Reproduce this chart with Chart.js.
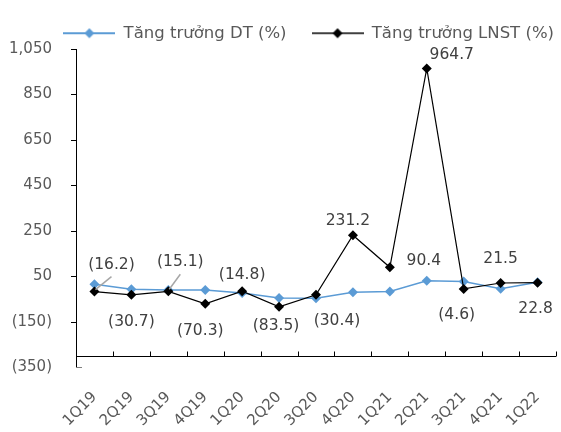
<!DOCTYPE html>
<html>
<head>
<meta charset="utf-8">
<script src="https://cdn.jsdelivr.net/npm/chart.js@4/dist/chart.umd.min.js"></script>
<style>
  html, body { margin: 0; padding: 0; background: #fff; }
  #wrap { width: 561px; height: 432px; }
</style>
</head>
<body>
<div id="wrap"><canvas id="chart"></canvas></div>
<script>
const quarters = ['1Q19','2Q19','3Q19','4Q19','1Q20','2Q20','3Q20','4Q20','1Q21','2Q21','3Q21','4Q21','1Q22'];
const revenueGrowth = [16, -6, -9, -9, -23, -45, -46, -19, -16, 31, 28, -4, 25];
const profitGrowth = [-16.2, -30.7, -15.1, -70.3, -14.8, -83.5, -30.4, 231.2, 90.4, 964.7, -4.6, 21.5, 22.8];
const yTicks = [-350, -150, 50, 250, 450, 650, 850, 1050];
const axisCross = -300;

// label placement (px from the point), leader lines for the crowded ones
const labelShift = [[17,-27],[0,27],[12,-29],[-5,27],[0,-16],[-3,19],[21,26],[-5,-14],[34,-6],[25,-13],[-7,26],[0,-24],[-2,26]];
const withLeader = [0, 2];

const BLUE = '#5B9BD5', BLACK = '#000000', GREY = '#595959';
Chart.defaults.font.family = "'DejaVu Sans', Verdana, sans-serif";

function fmt(v) {
  const s = Math.abs(v).toLocaleString('en-US', { maximumFractionDigits: 1 });
  return v < 0 ? '(' + s + ')' : s;
}

function legendIcon(color, lw) {
  const c = document.createElement('canvas');
  c.width = 52; c.height = 12;
  const g = c.getContext('2d');
  g.strokeStyle = color; g.lineWidth = lw;
  g.beginPath(); g.moveTo(0, 6); g.lineTo(52, 6); g.stroke();
  g.fillStyle = color;
  g.beginPath(); g.moveTo(26, 1); g.lineTo(31, 6); g.lineTo(26, 11); g.lineTo(21, 6); g.closePath(); g.fill();
  return c;
}

const extras = {
  id: 'extras',
  beforeInit(chart) {
    const fit = chart.legend.fit;
    chart.legend.fit = function () { fit.call(this); this.height = 49; };
  },
  afterLayout(chart) {
    chart.legend.left += 22;
    chart.legend.right += 22;
  },
  afterDatasetsDraw(chart) {
    const ctx = chart.ctx, xs = chart.scales.x, ys = chart.scales.y, area = chart.chartArea;
    const yc = Math.round(ys.getPixelForValue(axisCross)) + 0.5;
    ctx.save();
    // horizontal axis crossing at -300, ticks pointing up
    ctx.strokeStyle = BLACK; ctx.lineWidth = 1;
    ctx.beginPath(); ctx.moveTo(area.left, yc); ctx.lineTo(area.right, yc); ctx.stroke();
    for (let i = 0; i <= quarters.length; i++) {
      const x = Math.round(xs.getPixelForValue(i - 0.5)) + 0.5;
      ctx.beginPath(); ctx.moveTo(x, yc); ctx.lineTo(x, yc - 5); ctx.stroke();
    }
    const yb = Math.round(ys.getPixelForValue(yTicks[0])) - 0.5;
    ctx.strokeStyle = '#7F7F7F';
    ctx.beginPath(); ctx.moveTo(area.left, yb); ctx.lineTo(area.left + 6, yb); ctx.stroke();
    // data labels for profit growth
    const meta = chart.getDatasetMeta(1);
    ctx.font = "15.5px 'DejaVu Sans'";
    ctx.fillStyle = '#404040';
    ctx.textAlign = 'center'; ctx.textBaseline = 'middle';
    meta.data.forEach((pt, i) => {
      const lx = pt.x + labelShift[i][0], ly = pt.y + labelShift[i][1];
      if (withLeader.includes(i)) {
        ctx.strokeStyle = '#A6A6A6'; ctx.lineWidth = 1.5;
        ctx.beginPath(); ctx.moveTo(lx, ly + 12); ctx.lineTo(pt.x + 1, pt.y - 2); ctx.stroke();
      }
      ctx.fillText(fmt(profitGrowth[i]), lx, ly);
    });
    ctx.restore();
  }
};

new Chart(document.getElementById('chart'), {
  type: 'line',
  data: {
    labels: quarters,
    datasets: [
      { label: 'Tăng trưởng DT (%)', data: revenueGrowth, borderColor: BLUE, backgroundColor: BLUE,
        borderWidth: 1.5, pointStyle: 'rectRot', pointRadius: 5, pointBorderWidth: 0, order: 2 },
      { label: 'Tăng trưởng LNST (%)', data: profitGrowth, borderColor: BLACK, backgroundColor: BLACK,
        borderWidth: 1.2, pointStyle: 'rectRot', pointRadius: 5, pointBorderWidth: 0, order: 1 }
    ]
  },
  options: {
    responsive: true, maintainAspectRatio: false, animation: false,
    layout: { padding: { left: 9, right: 4, top: 0, bottom: 0 } },
    plugins: {
      tooltip: { enabled: false },
      legend: {
        align: 'end',
        labels: {
          color: GREY, font: { size: 16.5 }, padding: 25,
          usePointStyle: true, pointStyleWidth: 52,
          generateLabels: chart => chart.data.datasets.map((ds, i) => ({
            text: ds.label, pointStyle: legendIcon(ds.borderColor, ds.borderWidth + 0.3),
            fillStyle: ds.borderColor, strokeStyle: ds.borderColor, lineWidth: 0,
            fontColor: GREY, hidden: false, datasetIndex: i
          }))
        }
      }
    },
    scales: {
      x: {
        offset: true,
        grid: { display: false, drawTicks: false },
        border: { display: false },
        ticks: { color: GREY, font: { size: 15 }, minRotation: 45, maxRotation: 45, padding: 21, autoSkip: false },
        afterFit: s => { s.height = 64.5; s.paddingLeft = 0; s.paddingRight = 0; }
      },
      y: {
        min: yTicks[0], max: yTicks[yTicks.length - 1],
        afterBuildTicks: s => { s.ticks = yTicks.map(v => ({ value: v })); },
        grid: {
          drawOnChartArea: false, drawTicks: true, tickLength: 5,
          color: c => (c.tick && c.tick.value === yTicks[0]) ? 'rgba(0,0,0,0)' : BLACK
        },
        border: { display: true, color: BLACK, width: 1 },
        ticks: { color: GREY, font: { size: 15 }, padding: 19, callback: v => fmt(v) },
        afterFit: s => { s.width = 67; s.paddingTop = 0; s.paddingBottom = 0; }
      }
    }
  },
  plugins: [extras]
});
</script>
</body>
</html>
